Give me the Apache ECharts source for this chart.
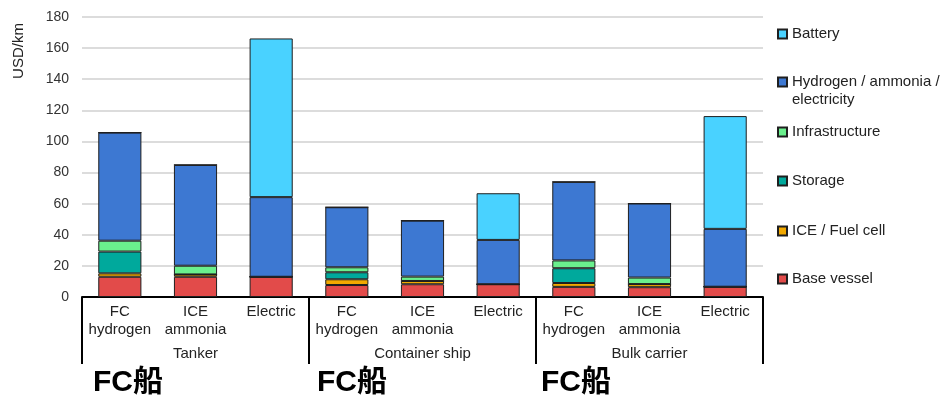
<!DOCTYPE html>
<html>
<head>
<meta charset="utf-8">
<script src="https://cdn.jsdelivr.net/npm/echarts@6/dist/echarts.min.js"></script>
<style>
  html, body { margin: 0; padding: 0; background: #fff; }
  #chart { width: 942px; height: 395px; }
</style>
</head>
<body>
<div id="chart"></div>
<script>
// ship x fuel option
const categories = [
  "FC\nhydrogen", "ICE\nammonia", "Electric",
  "FC\nhydrogen", "ICE\nammonia", "Electric",
  "FC\nhydrogen", "ICE\nammonia", "Electric",
];
const groups = ["Tanker", "Container ship", "Bulk carrier"];
const groupNotes = ["FC船", "FC船", "FC船"];

// USD/km
const baseVessel     = [13, 13, 13, 7.7, 8.2, 8.2, 6.5, 6.3, 6.6];
const iceFuelCell    = [2.2, 1.5, 0, 3.7, 2.1, 0, 2.5, 2, 0];
const storage        = [14, 0, 0, 4.5, 0, 0, 9.5, 0, 0];
const infrastructure = [7, 5.6, 0, 3.2, 2.8, 0, 5, 4.2, 0];
const hydrogen       = [69.5, 64.8, 51.2, 38.6, 36, 28.5, 50.5, 47.6, 37.2];
const battery        = [0, 0, 102, 0, 0, 30, 0, 0, 72.5];

const yTicks = { min: 0, max: 180, interval: 20 };

const seriesDefs = [
  { name: "Base vessel", data: baseVessel, color: "#E24B4A" },
  { name: "ICE / Fuel cell", data: iceFuelCell, color: "#F2A900" },
  { name: "Storage", data: storage, color: "#00A99C" },
  { name: "Infrastructure", data: infrastructure, color: "#6AF08D" },
  { name: "Hydrogen / ammonia /\nelectricity", data: hydrogen, color: "#3D78D2" },
  { name: "Battery", data: battery, color: "#49D2FF" },
];

// legend rows, top to bottom (the 2-line one sits higher for its taller text box)
const legendTops = [25, 55, 123, 172, 222, 270];
const FONT = "'Liberation Sans', Arial, sans-serif";

const chart = echarts.init(document.getElementById("chart"));

const legends = seriesDefs.slice().reverse().map((s, i) => ({
  data: [s.name],
  left: 777,
  top: legendTops[i],
  padding: 0,
  itemWidth: 9,
  itemHeight: 9,
  selectedMode: false,
  icon: "rect",
  // blank first line so the icon lines up with the first text line
  formatter: (name) => (name.includes("\n") ? "\n" + name : name),
  textStyle: {
    fontFamily: FONT,
    fontSize: 15,
    color: "#222",
    lineHeight: 18,
  },
}));

chart.setOption({
  animation: false,
  backgroundColor: "#fff",
  grid: { left: 82, right: 179, top: 17, bottom: 98 },
  legend: legends,
  xAxis: [
    {
      type: "category",
      data: categories,
      position: "bottom",
      axisLine: { lineStyle: { color: "#000", width: 2 } },
      axisTick: { show: false },
      axisLabel: {
        interval: 0,
        margin: 6,
        fontFamily: FONT,
        fontSize: 15,
        lineHeight: 18,
        color: "#222",
      },
    },
    {
      type: "category",
      data: groups,
      position: "bottom",
      axisLine: { show: false },
      axisTick: { show: true, length: 67, lineStyle: { color: "#000", width: 2 } },
      axisLabel: {
        margin: 49,
        fontFamily: FONT,
        fontSize: 15,
        color: "#222",
      },
    },
  ],
  yAxis: {
    type: "value",
    min: yTicks.min,
    max: yTicks.max,
    interval: yTicks.interval,
    axisLine: { show: false },
    axisTick: { show: false },
    axisLabel: { margin: 13, fontFamily: FONT, fontSize: 14, color: "#333" },
    splitLine: { lineStyle: { color: "#dcdcdc", width: 2 } },
  },
  graphic: [
    {
      type: "text",
      x: 19,
      y: 51,
      rotation: Math.PI / 2,
      style: {
        text: "USD/km",
        font: "15px " + FONT,
        fill: "#222",
        align: "center",
        verticalAlign: "middle",
      },
    },
  ].concat(groupNotes.map((t, i) => ({
    type: "text",
    x: 93 + i * 224,
    y: 383,
    style: {
      text: t,
      font: "bold 30px 'Liberation Sans', 'Noto Sans CJK SC', sans-serif",
      fill: "#000",
      align: "left",
      verticalAlign: "middle",
    },
  }))),
  series: seriesDefs.map((s) => ({
    type: "bar",
    name: s.name,
    stack: "total",
    data: s.data,
    barWidth: "57%",
    itemStyle: { color: s.color, borderColor: "#1f1f1f", borderWidth: 1 },
  })),
});
</script>
</body>
</html>
